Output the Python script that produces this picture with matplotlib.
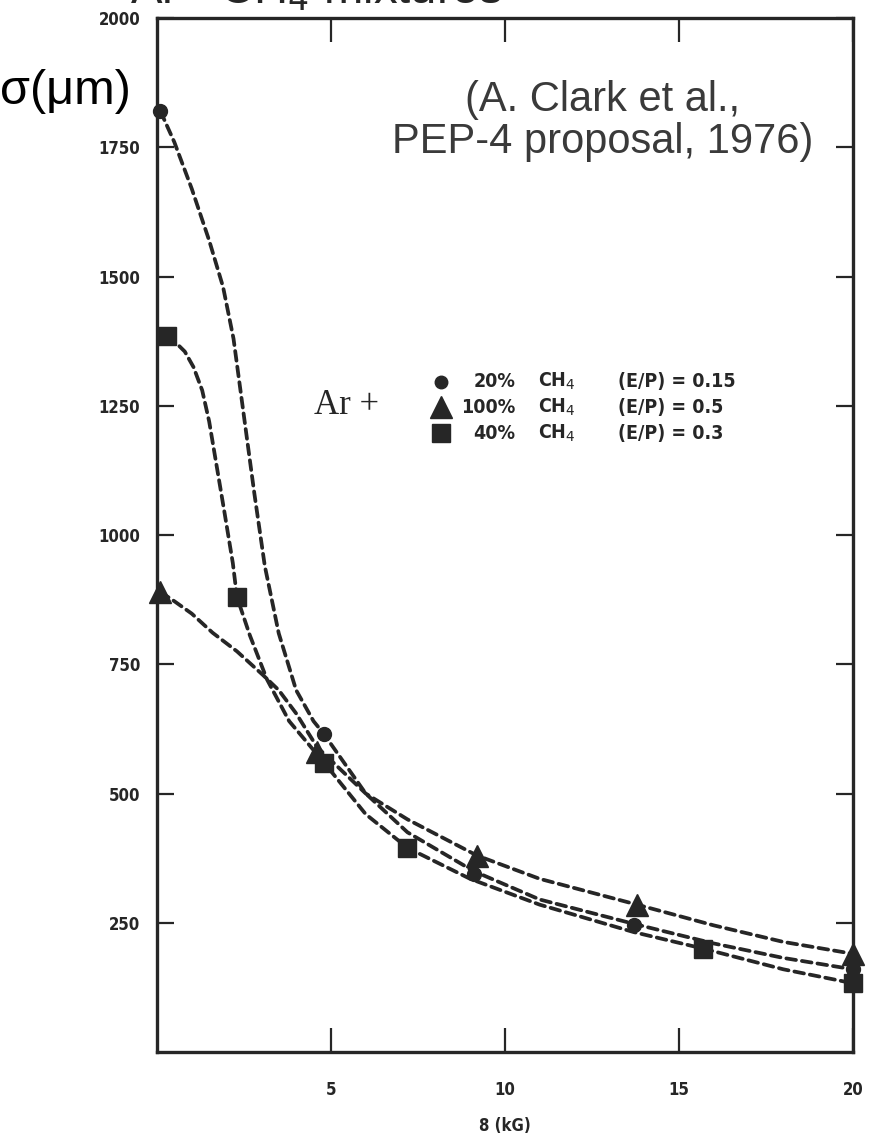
import matplotlib.pyplot as plt

# Точки измерений (B в кГс, sigma в мкм)
circ_x = [0.1, 4.8, 9.1, 13.7, 20.0]
circ_y = [1820, 615, 345, 245, 160]
tri_x = [0.1, 4.6, 9.2, 13.8, 20.0]
tri_y = [890, 580, 380, 285, 190]
sq_x = [0.3, 2.3, 4.8, 7.2, 15.7, 20.0]
sq_y = [1385, 880, 560, 395, 200, 133]

# Пунктирные кривые
circ_cx = [0.1, 0.5, 1.0, 1.5, 1.9, 2.2, 2.5, 2.8, 3.1, 3.5, 4.0, 4.5, 4.8, 6.0, 7.2, 9.1, 11.0, 13.7, 16.0, 18.0, 20.0]
circ_cy = [1820, 1760, 1670, 1570, 1480, 1380, 1230, 1080, 940, 810, 700, 640, 615, 500, 425, 350, 295, 248, 210, 182, 160]
tri_cx = [0.1, 0.5, 1.0, 1.6, 2.3, 3.05, 3.5, 4.0, 4.6, 6.0, 7.2, 9.2, 11.0, 13.8, 16.0, 18.0, 20.0]
tri_cy = [890, 872, 848, 811, 775, 729, 700, 655, 590, 500, 450, 380, 335, 285, 245, 213, 190]
sq_cx = [0.3, 0.5, 0.8, 1.05, 1.3, 1.5, 1.7, 1.95, 2.18, 2.3, 2.67, 3.16, 3.8, 4.8, 6.0, 7.2, 9.0, 11.0, 13.7, 15.7, 18.0, 20.0]
sq_cy = [1385, 1375, 1355, 1325, 1280, 1220, 1140, 1040, 946, 880, 806, 721, 640, 560, 460, 395, 335, 285, 232, 200, 160, 133]

x_ticks = [5, 10, 15, 20]
y_ticks = [250, 500, 750, 1000, 1250, 1500, 1750, 2000]

legend_rows = [
    ('o', '20%', '(E/P) = 0.15'),
    ('^', '100%', '(E/P) = 0.5'),
    ('s', '40%', '(E/P) = 0.3'),
]

INK = '#262626'
NARROW = ['Liberation Sans Narrow', 'DejaVu Sans']
SANS = ['Liberation Sans', 'DejaVu Sans']


def main():
    fig = plt.figure(figsize=(8.72, 11.33), dpi=100)
    ax = fig.add_axes([0.180, 0.0715, 0.798, 0.9125])

    for cx, cy in [(circ_cx, circ_cy), (tri_cx, tri_cy), (sq_cx, sq_cy)]:
        ax.plot(cx, cy, color=INK, lw=2.7, dashes=(2.6, 1.6),
                dash_capstyle='round', clip_on=False)

    ax.plot(circ_x, circ_y, 'o', color=INK, ms=10, clip_on=False, zorder=5)
    ax.plot(tri_x, tri_y, '^', color=INK, ms=16, clip_on=False, zorder=5)
    ax.plot(sq_x, sq_y, 's', color=INK, ms=13, clip_on=False, zorder=5)

    ax.set_xlim(0, 20)
    ax.set_ylim(0, 2000)
    ax.set_xticks(x_ticks)
    ax.set_yticks(y_ticks)
    ax.tick_params(axis='both', direction='in', width=1.6, colors=INK,
                   labelsize=12, top=True, right=True)
    ax.tick_params(axis='x', length=17, pad=21)
    ax.tick_params(axis='y', length=12, pad=12)
    for lab in ax.get_xticklabels() + ax.get_yticklabels():
        lab.set_fontfamily(NARROW)
        lab.set_fontweight('bold')
        lab.set_fontstretch('condensed')
    for sp in ax.spines.values():
        sp.set_linewidth(2.4)
        sp.set_color(INK)

    ax.set_xlabel('8 (kG)', fontsize=12, fontweight='bold', family=NARROW,
                  fontstretch='condensed', color=INK, labelpad=13)

    # Подписи
    fig.text(0.0, 0.919, 'σ(μm)', fontsize=35, family=SANS,
             ha='left', va='center', color='black')
    fig.text(0.6915, 0.893, '(A. Clark et al.,\nPEP-4 proposal, 1976)', fontsize=30,
             family=SANS, ha='center', va='center', color='#3a3a3a', linespacing=1.08)
    fig.text(0.362, 0.997, 'Ar - CH$_4$ mixtures', fontsize=34,
             family=SANS, ha='center', va='baseline', color=INK)

    # Легенда вручную
    ax.text(5.45, 1250, 'Ar +', fontsize=25, family=['Liberation Serif', 'DejaVu Serif'],
            ha='center', va='center', color=INK)
    row_y = [1297, 1247, 1197]
    for (m, pct, ep), yy in zip(legend_rows, row_y):
        ms = {'o': 9, '^': 16, 's': 13}[m]
        ax.plot([8.15], [yy], m, color=INK, ms=ms, clip_on=False)
        ax.text(10.3, yy, pct, fontsize=14, fontweight='bold', family=NARROW,
                fontstretch='condensed', ha='right', va='center', color=INK)
        ax.text(10.95, yy, 'CH$_4$', fontsize=14, fontweight='bold', family=NARROW,
                fontstretch='condensed', ha='left', va='center', color=INK)
        ax.text(13.25, yy, ep, fontsize=14, fontweight='bold', family=NARROW,
                fontstretch='condensed', ha='left', va='center', color=INK)

    fig.savefig('out.png', dpi=100)


if __name__ == '__main__':
    main()
